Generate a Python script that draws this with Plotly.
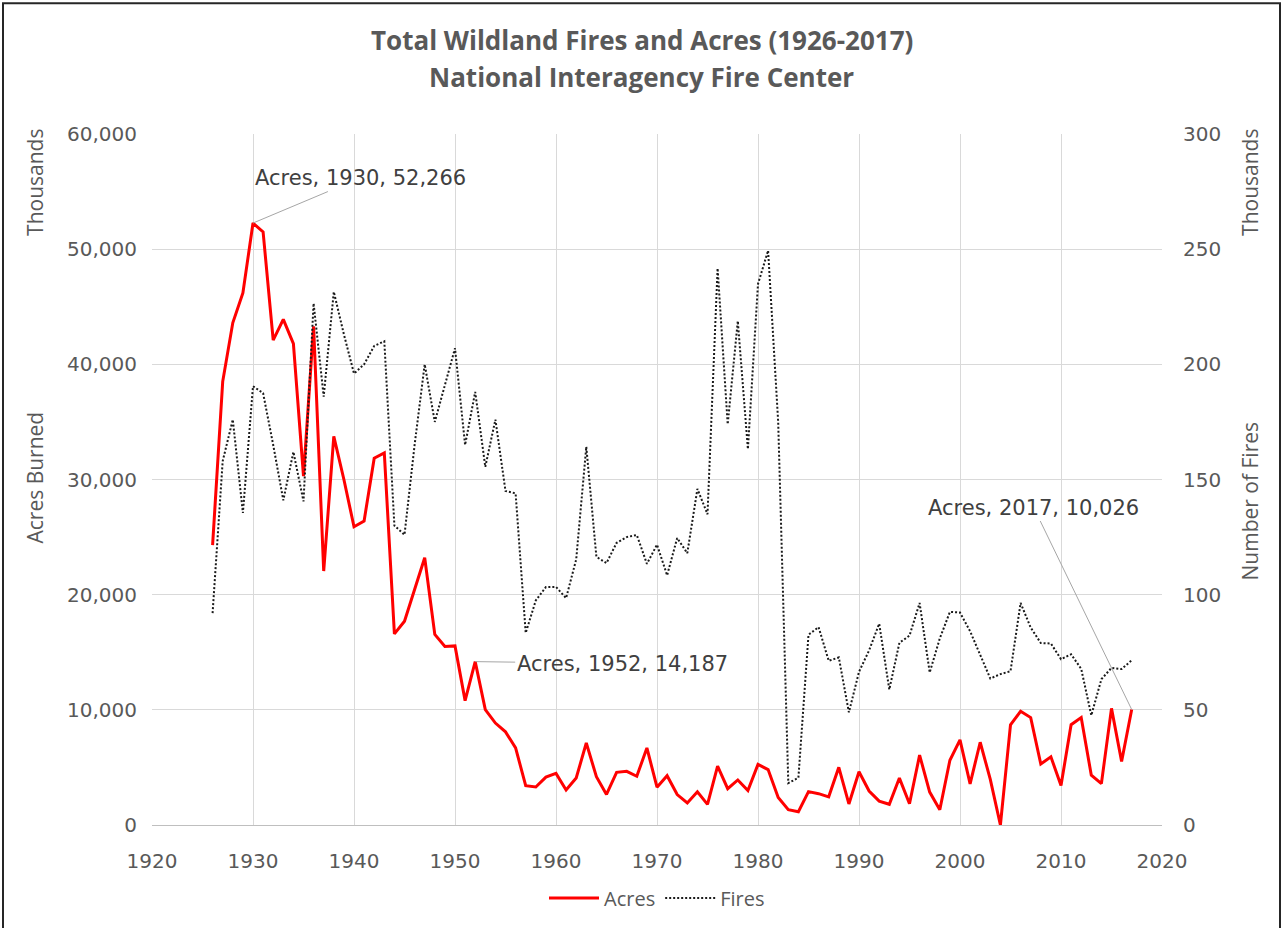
import plotly.graph_objects as go

years = list(range(1926, 2018))

acres_thousands = [
    24300, 38500, 43600, 46200, 52266, 51500, 42100, 43900, 41800, 30300,
    43300, 22050, 33750, 30000, 25900, 26400, 31850, 32300, 16600, 17700,
    20450, 23200, 16550, 15500, 15550, 10800, 14187, 10020, 8850, 8090,
    6700, 3409, 3300, 4156, 4478, 3036, 4079, 7121, 4197, 2652,
    4574, 4659, 4232, 6689, 3279, 4278, 2641, 1915, 2879, 1791,
    5110, 3153, 3911, 2987, 5261, 4814, 2382, 1324, 1148, 2896,
    2719, 2447, 5009, 1827, 4622, 2954, 2070, 1798, 4074, 1841,
    6066, 2857, 1330, 5626, 7393, 3571, 7185, 3961, 0, 8689,
    9874, 9328, 5292, 5922, 3423, 8711, 9326, 4320, 3596, 10125,
    5510, 10026,
]

fires_thousands = [
    92, 158, 176, 135.5, 190.5, 187.5, 165, 141, 162, 140.5,
    226.5, 186, 231.5, 213, 196, 200, 208, 210, 130, 126,
    165, 200, 175, 191, 207, 165, 188, 155.5, 176, 145,
    144, 83.4, 97.5, 103.3, 103.4, 98.5, 115.3, 164.2, 116.4, 113.7,
    122.5, 125.0, 125.9, 113.4, 121.7, 108.4, 124.6, 118.0, 145.9, 134.9,
    241.7, 174.0, 218.8, 163.2, 234.9, 249.4, 174.8, 18.2, 20.5, 82.6,
    85.9, 71.3, 72.75, 48.9, 66.5, 75.8, 87.4, 58.8, 79.1, 82.2,
    96.4, 66.2, 81.0, 92.5, 92.25, 84.1, 73.5, 63.6, 65.5, 66.75,
    96.4, 85.7, 79.0, 78.8, 72.0, 74.1, 67.8, 47.6, 63.3, 68.2,
    67.7, 71.5,
]

x_ticks = [1920, 1930, 1940, 1950, 1960, 1970, 1980, 1990, 2000, 2010, 2020]
left_ticks = [0, 10000, 20000, 30000, 40000, 50000, 60000]
right_ticks = [0, 50, 100, 150, 200, 250, 300]
label_years = [1930, 1952, 2017]

W, H = 1283, 928
L, R, T, B = 152, 121, 134, 102
PW, PH = W - L - R, H - T - B


def px(xp):
    return (xp - L) / PW


def py(yp):
    return (H - B - yp) / PH


GRAY = "#595959"
SANS = "Open Sans, sans-serif"
TICKFONT = dict(family="DejaVu Sans, sans-serif", size=20, color=GRAY)

fig = go.Figure()
fig.add_trace(go.Scatter(
    x=years, y=acres_thousands, name="Acres", mode="lines",
    line=dict(color="#ff0000", width=3), yaxis="y",
))
fig.add_trace(go.Scatter(
    x=years, y=fires_thousands, name="Fires", mode="lines",
    line=dict(color="#1a1a1a", width=2, dash="2px,2px"), yaxis="y2",
))

annotations = []
offsets = {1930: (107, -45), 1952: (147, 2), 2017: (-98, -202)}
for yr in label_years:
    v = acres_thousands[years.index(yr)]
    ax, ay = offsets[yr]
    annotations.append(dict(
        x=yr, y=v, xref="x", yref="y", text=f"Acres, {yr}, {v:,}",
        showarrow=True, arrowhead=0, arrowwidth=1, arrowcolor="#a6a6a6",
        ax=ax, ay=ay, xanchor="center", yanchor="middle",
        font=dict(family="DejaVu Sans, sans-serif", size=21, color="#404040"),
    ))


def side_text(x, y, text, size, angle=0):
    return dict(x=px(x), y=py(y), xref="paper", yref="paper", showarrow=False,
                xanchor="center", yanchor="middle", text=text, textangle=angle,
                font=dict(family=SANS, size=size, color=GRAY))


annotations += [
    side_text(641.5, 40, "<b>Total Wildland Fires and Acres (1926-2017)</b>", 26),
    side_text(641.5, 77, "<b>National Interagency Fire Center</b>", 26),
    side_text(35, 478, "Acres Burned", 21, -90),
    side_text(35, 183, "Thousands", 21, -90),
    side_text(1250, 183, "Thousands", 21, -90),
    side_text(1250, 502, "Number of Fires", 21, -90),
]

fig.update_layout(
    width=W, height=H,
    margin=dict(l=L, r=R, t=T, b=B),
    paper_bgcolor="white", plot_bgcolor="white",
    showlegend=True,
    legend=dict(orientation="h", x=0.5, xanchor="center", y=py(898), yanchor="middle",
                font=dict(family=SANS, size=20, color=GRAY), bgcolor="rgba(0,0,0,0)",
                itemwidth=50),
    xaxis=dict(range=[1920, 2020], tickvals=x_ticks, showgrid=True, gridcolor="#d9d9d9",
               gridwidth=1, zeroline=False, showline=True, linecolor="#bfbfbf", linewidth=1,
               ticks="outside", ticklen=18, tickcolor="rgba(0,0,0,0)", tickfont=TICKFONT),
    yaxis=dict(range=[0, 60000], tickvals=left_ticks, tickformat=",d", showgrid=True,
               gridcolor="#d9d9d9", gridwidth=1, zeroline=False, showline=False,
               ticks="outside", ticklen=10, tickcolor="rgba(0,0,0,0)", tickfont=TICKFONT),
    yaxis2=dict(range=[0, 300], tickvals=right_ticks, overlaying="y", side="right",
                showgrid=False, zeroline=False, showline=False,
                ticks="outside", ticklen=16, tickcolor="rgba(0,0,0,0)", tickfont=TICKFONT),
    annotations=annotations,
    shapes=[dict(type="rect", xref="paper", yref="paper",
                 x0=px(3), x1=px(1280), y0=py(950), y1=py(3),
                 line=dict(color="#262626", width=2), fillcolor="rgba(0,0,0,0)", layer="above")],
)

fig.write_html("out.html", config={"displayModeBar": False},
               post_script="document.body.style.margin='0';")
